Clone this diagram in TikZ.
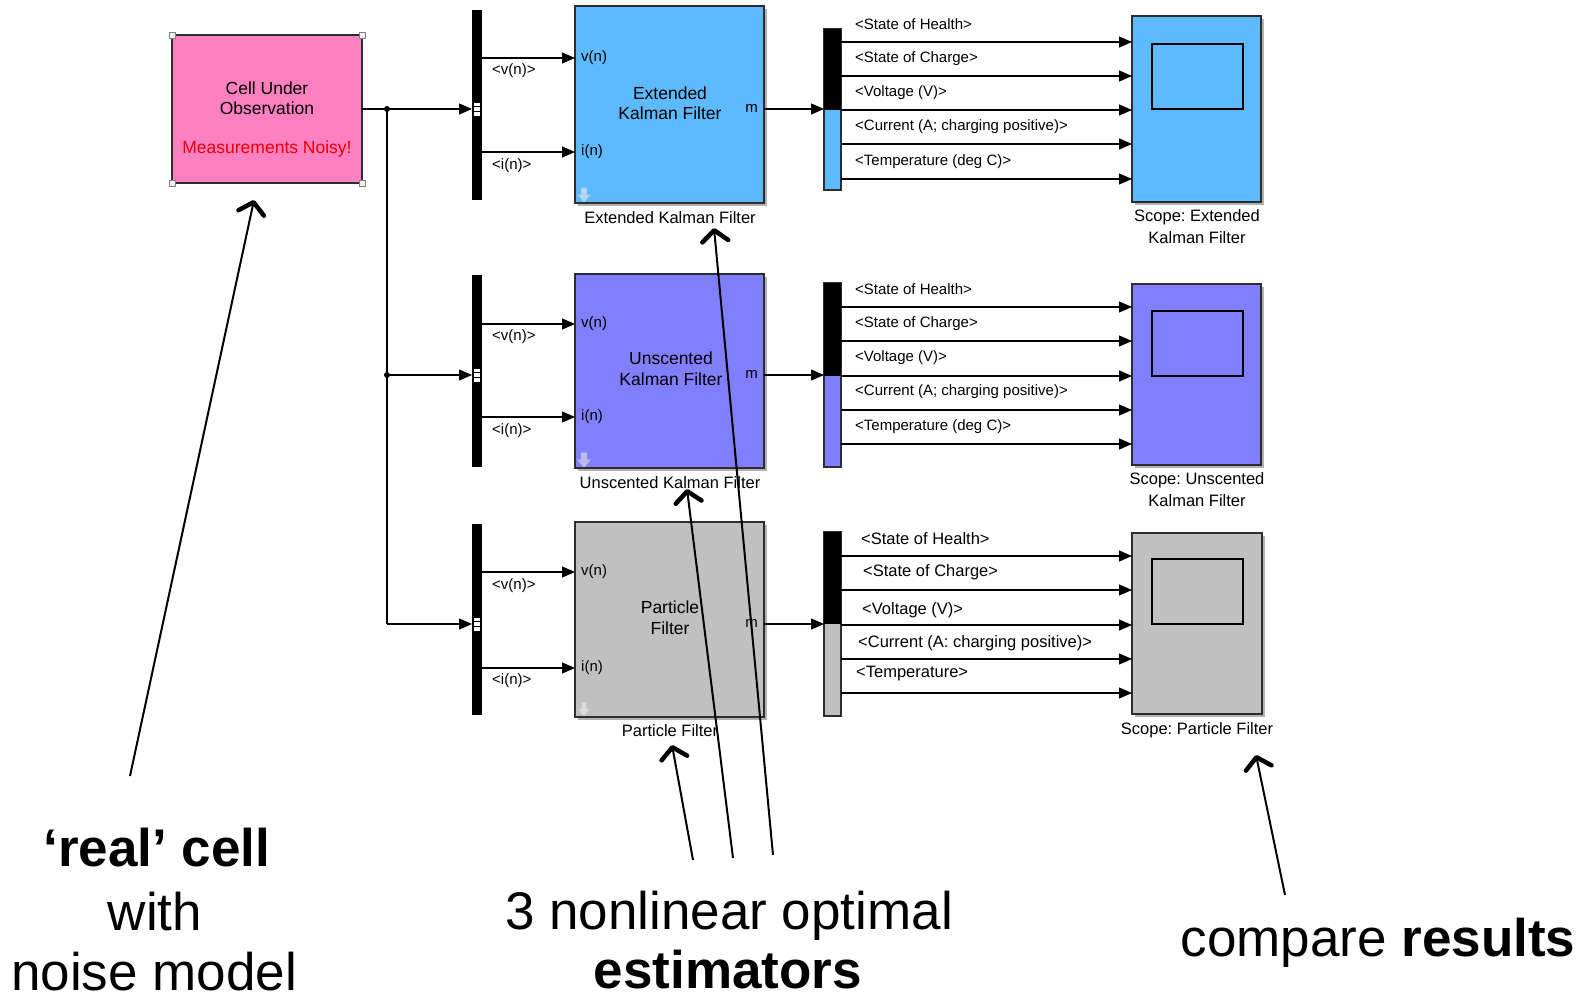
\documentclass[tikz,border=0pt]{standalone}
\usepackage{fontspec}
\setmainfont{Liberation Sans}
\frenchspacing
\usetikzlibrary{arrows.meta,shadows}
\definecolor{cellpink}{RGB}{255,128,192}
\definecolor{ekfblue}{RGB}{94,186,255}
\definecolor{ukfblue}{RGB}{128,128,255}
\definecolor{pfgray}{RGB}{192,192,192}
\definecolor{edge}{RGB}{45,45,45}
\definecolor{noisyred}{RGB}{235,0,0}
\begin{document}
\begin{tikzpicture}[x=1pt,y=-1pt,
  blk/.style={draw=edge, line width=1.6pt, inner sep=0pt, outer sep=0pt, anchor=north west},
  blkshadow/.style={drop shadow={shadow xshift=2.5pt,shadow yshift=-2.5pt,fill=black,opacity=0.3}},
  busbar/.style={fill=black, inner sep=0pt, outer sep=0pt, minimum width=10pt, anchor=north west},
  scr/.style={draw=black, line width=1.6pt, inner sep=0pt, outer sep=0pt, minimum width=91pt, minimum height=65pt, anchor=north west},
  sig/.style={line width=1.1pt, draw=black, -{Triangle[length=13pt,width=11pt]}},
  wire/.style={line width=1.1pt, draw=black},
  ann/.style={line width=2pt, draw=black, -{Straight Barb[length=11pt,width=26pt,line width=4.5pt,round]}},
  sm/.style={font=\fontsize{15}{17}\selectfont, inner sep=0pt},
  md/.style={font=\fontsize{16.5}{20}\selectfont, inner sep=0pt},
  bt/.style={font=\fontsize{17.5}{20.5}\selectfont, inner sep=0pt},
  big/.style={font=\fontsize{53}{63}\selectfont, inner sep=0pt, anchor=base, text depth=0pt},
  handle/.style={draw=gray, fill=white!88!gray, line width=0.6pt, minimum size=6pt, inner sep=0pt},
  dnarrow/.pic={\draw[line width=0.6pt, draw=white!55!gray, fill=white, fill opacity=0.45]
      (-2.5,-7) -- (2.5,-7) -- (2.5,0) -- (6,0) -- (0,7) -- (-6,0) -- (-2.5,0) -- cycle;},
  busmark/.pic={\fill[white] (-3,-6.5) rectangle (3,6.5);
      \draw[black, line width=0.8pt] (-3,-2.2) -- (3,-2.2) (-3,2.2) -- (3,2.2);},
]
\useasboundingbox (0,0) rectangle (1591,999);

% ---------------- cell under observation ----------------
\node[blk, fill=cellpink, minimum width=190pt, minimum height=148pt] (cell) at (172,35) {};
\foreach \c in {north west, north east, south west, south east} \node[handle] at (cell.\c) {};
\node[bt] (cellt1) at (267,88) {Cell Under};
\node[bt] (cellt2) at (267,108) {Observation};
\node[bt, text=noisyred] (cellt3) at (267,149) {Measurements Noisy!};

% ---------------- bus bars ----------------
\node[busbar, minimum height=190pt] (mux1) at (472,10) {};
\node[busbar, minimum height=192pt] (mux2) at (472,275) {};
\node[busbar, minimum height=191pt] (mux3) at (472,524) {};

% ---------------- filter blocks ----------------
\node[blk, blkshadow, fill=ekfblue, minimum width=189pt, minimum height=197pt] (ekf) at (575,6) {};
\node[blk, blkshadow, fill=ukfblue, minimum width=189pt, minimum height=194pt] (ukf) at (575,274) {};
\node[blk, blkshadow, fill=pfgray, minimum width=189pt, minimum height=195pt] (pf) at (575,522) {};
\pic at (584,195) {dnarrow};
\pic at (584,460) {dnarrow};
\pic at (584,709) {dnarrow};

\node[bt] (ekft1) at (670,93) {Extended};
\node[bt] (ekft2) at (670,113) {Kalman Filter};
\node[bt] (ukft1) at (671,358) {Unscented};
\node[bt] (ukft2) at (671,379) {Kalman Filter};
\node[bt] (pft1) at (670,607) {Particle};
\node[bt] (pft2) at (670,628) {Filter};

\node[md] (ekfl) at (670,218) {Extended Kalman Filter};
\node[md] (ukfl) at (670,483) {Unscented Kalman Filter};
\node[md] (pfl) at (670,731) {Particle Filter};

% ports
\coordinate (ekf-v) at (575,58);  \coordinate (ekf-i) at (575,152); \coordinate (ekf-m) at (764,109);
\coordinate (ukf-v) at (575,324); \coordinate (ukf-i) at (575,417); \coordinate (ukf-m) at (764,375);
\coordinate (pf-v) at (575,572);  \coordinate (pf-i) at (575,668);  \coordinate (pf-m) at (764,624);
\foreach \n in {ekf,ukf,pf}{
  \node[sm, anchor=west] at ([xshift=6pt]\n-v) {v(n)};
  \node[sm, anchor=west] at ([xshift=6pt]\n-i) {i(n)};
  \node[sm, anchor=east] at ([xshift=-6pt,yshift=1pt]\n-m) {m};
}

% ---------------- demux blocks ----------------
\node[blk, fill=ekfblue, minimum width=17pt, minimum height=161pt] (dmx1) at (824,29) {};
\fill[black] (824,29) rectangle (841,110);
\node[blk, fill=ukfblue, minimum width=17pt, minimum height=184pt] (dmx2) at (824,283) {};
\fill[black] (824,283) rectangle (841,376);
\node[blk, fill=pfgray, minimum width=17pt, minimum height=184pt] (dmx3) at (824,532) {};
\fill[black] (824,532) rectangle (841,624);

% ---------------- scopes ----------------
\node[blk, blkshadow, fill=ekfblue, minimum width=129pt, minimum height=186pt] (scope1) at (1132,16) {};
\node[scr, fill=ekfblue] (scr1) at (1152,44) {};
\node[blk, blkshadow, fill=ukfblue, minimum width=129pt, minimum height=181pt] (scope2) at (1132,284) {};
\node[scr, fill=ukfblue] (scr2) at (1152,311) {};
\node[blk, blkshadow, fill=pfgray, minimum width=130pt, minimum height=181pt] (scope3) at (1132,533) {};
\node[scr, fill=pfgray] (scr3) at (1152,559) {};

\node[md] (sc1a) at (1197,217) {Scope: Extended};
\node[md] (sc1b) at (1197,238) {Kalman Filter};
\node[md] (sc2a) at (1197,480) {Scope: Unscented};
\node[md] (sc2b) at (1197,501) {Kalman Filter};
\node[md] (sc3a) at (1197,730) {Scope: Particle Filter};

% ---------------- signal lines ----------------
\coordinate (j1) at (387,109);
\coordinate (j2) at (387,375);
\coordinate (j3) at (387,624);
\draw[wire] (cell.east) -- (j1);
\draw[sig] (j1) -- (j1 -| mux1.west);
\draw[wire] (j1) -- (j3);
\draw[sig] (j2) -- (j2 -| mux2.west);
\draw[sig] (j3) -- (j3 -| mux3.west);
\fill (j1) circle (3pt);
\fill (j2) circle (3pt);
\pic at (477,109) {busmark};
\pic at (477,375) {busmark};
\pic at (477,624) {busmark};

\draw[sig] (mux1.east |- ekf-v) -- (ekf-v);
\draw[sig] (mux1.east |- ekf-i) -- (ekf-i);
\draw[sig] (mux2.east |- ukf-v) -- (ukf-v);
\draw[sig] (mux2.east |- ukf-i) -- (ukf-i);
\draw[sig] (mux3.east |- pf-v) -- (pf-v);
\draw[sig] (mux3.east |- pf-i) -- (pf-i);

\node[sm, anchor=west] at (492,71) {<v(n)>};
\node[sm, anchor=west] at (492,166) {<i(n)>};
\node[sm, anchor=west] at (492,337) {<v(n)>};
\node[sm, anchor=west] at (492,431) {<i(n)>};
\node[sm, anchor=west] at (492,586) {<v(n)>};
\node[sm, anchor=west] at (492,681) {<i(n)>};

\draw[sig] (ekf-m) -- (ekf-m -| dmx1.west);
\draw[sig] (ukf-m) -- (ukf-m -| dmx2.west);
\draw[sig] (pf-m) -- (pf-m -| dmx3.west);

\foreach \y in {42,76,110,144,179} \draw[sig] (dmx1.east |- 0,\y) -- (scope1.west |- 0,\y);
\foreach \y in {307,341,376,410,444} \draw[sig] (dmx2.east |- 0,\y) -- (scope2.west |- 0,\y);
\foreach \y in {556,590,625,659,693} \draw[sig] (dmx3.east |- 0,\y) -- (scope3.west |- 0,\y);

\foreach \y/\t in {24/{<State of Health>},59/{<State of Charge>},93/{<Voltage (V)>},127/{<Current (A; charging positive)>},162/{<Temperature (deg C)>}}
  \node[sm, anchor=west] at (855,\y) {\t};
\foreach \y/\t in {289/{<State of Health>},324/{<State of Charge>},358/{<Voltage (V)>},392/{<Current (A; charging positive)>},427/{<Temperature (deg C)>}}
  \node[sm, anchor=west] at (855,\y) {\t};
\node[md, anchor=west] at (861,539) {<State of Health>};
\node[md, anchor=west] at (863,572) {<State of Charge>};
\node[md, anchor=west] at (862,610) {<Voltage (V)>};
\node[md, anchor=west] at (858,643) {<Current (A: charging positive)>};
\node[md, anchor=west] at (856,674) {<Temperature>};

% ---------------- annotations ----------------
\node[big, font=\fontsize{53}{63}\selectfont\bfseries] (real) at (157,866) {‘real’ cell};
\node[big] (with) at (155,930) {with};
\node[big] (noise) at (154,990) {noise model};
\node[big] (est1) at (729,929) {3 nonlinear optimal};
\node[big, font=\fontsize{53}{63}\selectfont\bfseries] (est2) at (728,988) {estimators};
\node[big] (cmp) at (1378,956) {compare \textbf{results}};

\coordinate (a1s) at (130,776);  \coordinate (a1e) at (254,200);
\coordinate (a2s) at (773,855);  \coordinate (a2e) at (714,228);
\coordinate (a3s) at (733,858);  \coordinate (a3e) at (687,489);
\coordinate (a4s) at (693,860);  \coordinate (a4e) at (672,745);
\coordinate (a5s) at (1285,895); \coordinate (a5e) at (1256,755);
\draw[ann] (a1s) -- (a1e);
\draw[ann] (a2s) -- (a2e);
\draw[ann] (a3s) -- (a3e);
\draw[ann] (a4s) -- (a4e);
\draw[ann] (a5s) -- (a5e);
\end{tikzpicture}
\end{document}
